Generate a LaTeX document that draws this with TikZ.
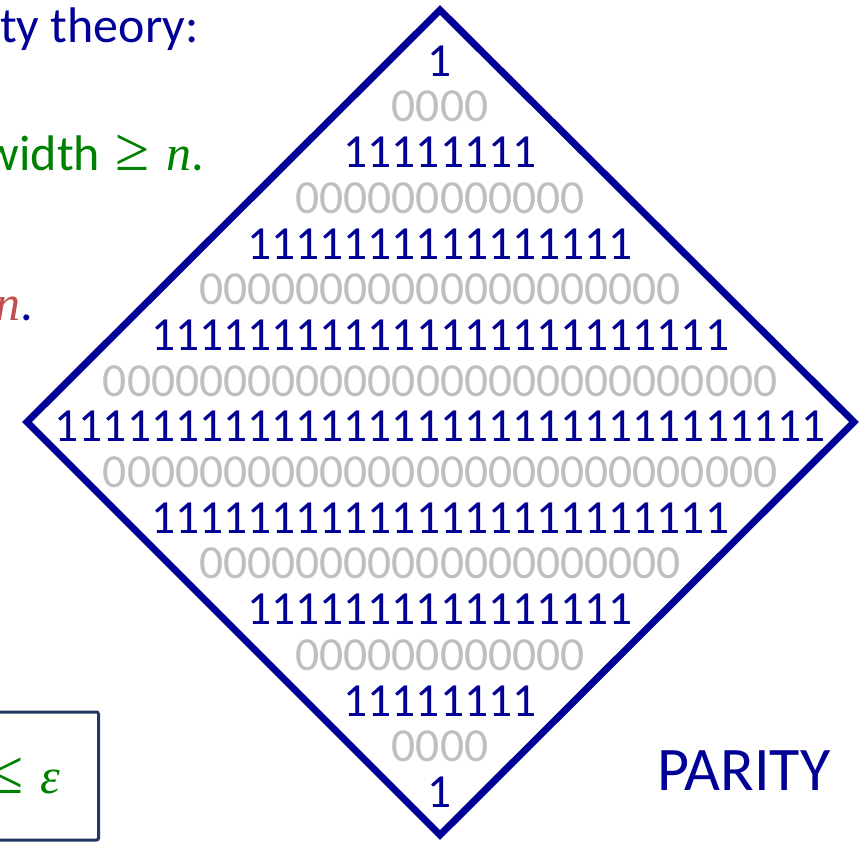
\documentclass[tikz,border=0pt]{standalone}
\usepackage{fontspec}
\setmainfont{Carlito}
\newfontfamily\mathlike{Liberation Serif}
\usepackage{tikz}
\usetikzlibrary{positioning}
\definecolor{paritynavy}{RGB}{0,0,150}
\definecolor{zerogray}{RGB}{191,191,191}
\definecolor{textgreen}{RGB}{0,128,0}
\definecolor{textred}{RGB}{192,80,77}
\definecolor{boxnavy}{RGB}{31,56,100}
\newcommand{\mvar}[1]{{\mathlike\itshape #1}}
\newcommand{\mrel}[1]{\hspace{15pt}{\mathlike\fontsize{62}{62}\selectfont #1}\hspace{17pt}}

\begin{document}
\begin{tikzpicture}[x=1pt, y=-1pt, node distance=45.7pt, on grid,
    ones/.style={text=paritynavy, inner sep=0pt, font=\fontsize{47.5}{47.5}\selectfont},
    zeros/.style={text=zerogray, inner sep=0pt, font=\fontsize{47.5}{47.5}\selectfont},
    slidetext/.style={inner sep=0pt, font=\fontsize{50}{50}\selectfont},
    frame/.style={draw=paritynavy, line width=7pt, line join=miter}]
    \useasboundingbox (0,0) rectangle (866,843);
    \clip (0,0) rectangle (866,843);
    % text of the slide, cut at the left edge
    \node [slidetext, text=paritynavy, anchor=base west] (heading) at (0,43) {ty theory:};
    \node [slidetext, text=textgreen, anchor=base east] (widthline) at (204,170) {width\mrel{≥}\mvar{n}.};
    \node [slidetext, text=paritynavy, anchor=base east] (sizeline) at (33,320) {\textcolor{textred}{\mvar{n}}.};
    \node [slidetext, draw=boxnavy, line width=3pt, rounded corners=2pt, text=textgreen, inner xsep=38pt, minimum height=128pt, anchor=east] (bound) at (100,776) {\mrel{≤}\mvar{ε}};
    % the diamond
    \draw [frame] (440,10) -- (854,422) -- (440,835) -- (27,422) -- cycle;
    \node [ones] (row1) at (440,61) {1};
    \node [zeros, below=of row1] (row2) {0000};
    \node [ones, below=of row2] (row3) {11111111};
    \node [zeros, below=of row3] (row4) {000000000000};
    \node [ones, below=of row4] (row5) {1111111111111111};
    \node [zeros, below=of row5] (row6) {00000000000000000000};
    \node [ones, below=of row6] (row7) {111111111111111111111111};
    \node [zeros, below=of row7] (row8) {0000000000000000000000000000};
    \node [ones, below=of row8] (row9) {11111111111111111111111111111111};
    \node [zeros, below=of row9] (row10) {0000000000000000000000000000};
    \node [ones, below=of row10] (row11) {111111111111111111111111};
    \node [zeros, below=of row11] (row12) {00000000000000000000};
    \node [ones, below=of row12] (row13) {1111111111111111};
    \node [zeros, below=of row13] (row14) {000000000000};
    \node [ones, below=of row14] (row15) {11111111};
    \node [zeros, below=of row15] (row16) {0000};
    \node [ones, below=of row16] (row17) {1};
    \node [text=paritynavy, inner sep=0pt, font=\fontsize{62}{62}\selectfont, anchor=base west] (label) at (657,790) {PARITY};
\end{tikzpicture}
\end{document}
